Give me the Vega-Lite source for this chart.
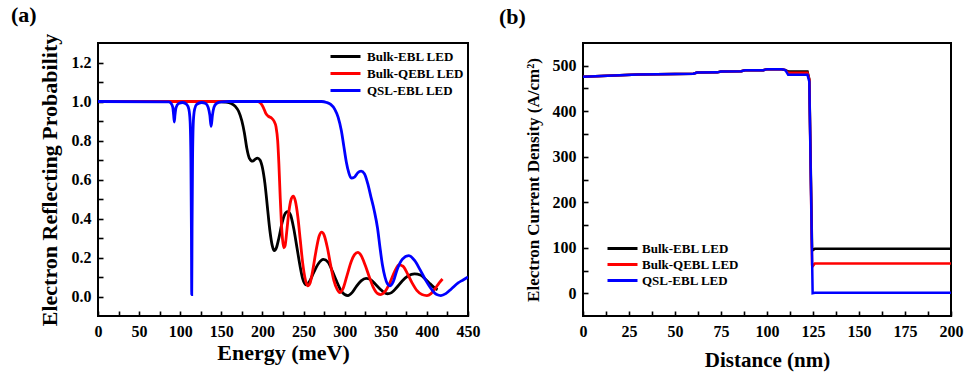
{
  "$schema": "https://vega.github.io/schema/vega-lite/v6.json",
  "background": "white",
  "padding": {"left": 10, "top": 3, "right": 5, "bottom": 3},
  "config": {
    "font": "Liberation Serif",
    "view": {"stroke": "black", "strokeWidth": 2},
    "axis": {
      "domain": false, "offset": -5,
      "tickColor": "black", "tickWidth": 1.6, "tickSize": 5,
      "labelFont": "Liberation Serif", "labelFontWeight": "bold", "labelFontSize": 16, "labelColor": "black",
      "labelPadding": 7, "labelOverlap": false, "labelFlush": false,
      "titleFont": "Liberation Serif", "titleFontWeight": "bold", "titleColor": "black",
      "grid": false
    },
    "legend": {
      "symbolType": "M-3,0H3", "symbolSize": 100, "symbolStrokeWidth": 3,
      "labelFont": "Liberation Serif", "labelFontWeight": "bold", "labelFontSize": 13, "labelColor": "black",
      "padding": 0
    },
    "title": {"font": "Liberation Serif", "fontWeight": "bold", "fontSize": 22, "color": "black"}
  },
  "datasets": {
    "refl": [
      {"series": "Bulk-EBL LED", "E": 0, "R": 1}, {"series": "Bulk-EBL LED", "E": 145, "R": 1}, {"series": "Bulk-EBL LED", "E": 155, "R": 0.997}, {"series": "Bulk-EBL LED", "E": 162, "R": 0.99}, {"series": "Bulk-EBL LED", "E": 167, "R": 0.975}, {"series": "Bulk-EBL LED", "E": 171, "R": 0.95}, {"series": "Bulk-EBL LED", "E": 175, "R": 0.9}, {"series": "Bulk-EBL LED", "E": 178, "R": 0.84}, {"series": "Bulk-EBL LED", "E": 181, "R": 0.76}, {"series": "Bulk-EBL LED", "E": 184, "R": 0.71}, {"series": "Bulk-EBL LED", "E": 188, "R": 0.694}, {"series": "Bulk-EBL LED", "E": 191, "R": 0.703}, {"series": "Bulk-EBL LED", "E": 194, "R": 0.71}, {"series": "Bulk-EBL LED", "E": 197, "R": 0.7}, {"series": "Bulk-EBL LED", "E": 200, "R": 0.66}, {"series": "Bulk-EBL LED", "E": 203, "R": 0.58}, {"series": "Bulk-EBL LED", "E": 206, "R": 0.46}, {"series": "Bulk-EBL LED", "E": 209, "R": 0.34}, {"series": "Bulk-EBL LED", "E": 212, "R": 0.26}, {"series": "Bulk-EBL LED", "E": 214.5, "R": 0.235}, {"series": "Bulk-EBL LED", "E": 217, "R": 0.25}, {"series": "Bulk-EBL LED", "E": 220, "R": 0.3}, {"series": "Bulk-EBL LED", "E": 224, "R": 0.38}, {"series": "Bulk-EBL LED", "E": 227, "R": 0.42}, {"series": "Bulk-EBL LED", "E": 230.5, "R": 0.435}, {"series": "Bulk-EBL LED", "E": 234, "R": 0.42}, {"series": "Bulk-EBL LED", "E": 238, "R": 0.35}, {"series": "Bulk-EBL LED", "E": 242, "R": 0.25}, {"series": "Bulk-EBL LED", "E": 246, "R": 0.15}, {"series": "Bulk-EBL LED", "E": 249, "R": 0.09}, {"series": "Bulk-EBL LED", "E": 253, "R": 0.06}, {"series": "Bulk-EBL LED", "E": 257, "R": 0.075}, {"series": "Bulk-EBL LED", "E": 262, "R": 0.12}, {"series": "Bulk-EBL LED", "E": 268, "R": 0.168}, {"series": "Bulk-EBL LED", "E": 274, "R": 0.19}, {"series": "Bulk-EBL LED", "E": 280, "R": 0.175}, {"series": "Bulk-EBL LED", "E": 285, "R": 0.13}, {"series": "Bulk-EBL LED", "E": 290, "R": 0.08}, {"series": "Bulk-EBL LED", "E": 295, "R": 0.035}, {"series": "Bulk-EBL LED", "E": 300, "R": 0.01}, {"series": "Bulk-EBL LED", "E": 304, "R": 0.005}, {"series": "Bulk-EBL LED", "E": 309, "R": 0.02}, {"series": "Bulk-EBL LED", "E": 314, "R": 0.05}, {"series": "Bulk-EBL LED", "E": 320, "R": 0.08}, {"series": "Bulk-EBL LED", "E": 326, "R": 0.093}, {"series": "Bulk-EBL LED", "E": 332, "R": 0.085}, {"series": "Bulk-EBL LED", "E": 338, "R": 0.06}, {"series": "Bulk-EBL LED", "E": 344, "R": 0.035}, {"series": "Bulk-EBL LED", "E": 348, "R": 0.02}, {"series": "Bulk-EBL LED", "E": 352, "R": 0.014}, {"series": "Bulk-EBL LED", "E": 357, "R": 0.02}, {"series": "Bulk-EBL LED", "E": 363, "R": 0.045}, {"series": "Bulk-EBL LED", "E": 370, "R": 0.08}, {"series": "Bulk-EBL LED", "E": 377, "R": 0.105}, {"series": "Bulk-EBL LED", "E": 385, "R": 0.116}, {"series": "Bulk-EBL LED", "E": 392, "R": 0.11}, {"series": "Bulk-EBL LED", "E": 398, "R": 0.09}, {"series": "Bulk-EBL LED", "E": 404, "R": 0.065}, {"series": "Bulk-EBL LED", "E": 409, "R": 0.045}, {"series": "Bulk-EBL LED", "E": 413, "R": 0.035},
      {"series": "Bulk-QEBL LED", "E": 0, "R": 1}, {"series": "Bulk-QEBL LED", "E": 194, "R": 1}, {"series": "Bulk-QEBL LED", "E": 198, "R": 0.99}, {"series": "Bulk-QEBL LED", "E": 201, "R": 0.97}, {"series": "Bulk-QEBL LED", "E": 204, "R": 0.94}, {"series": "Bulk-QEBL LED", "E": 207, "R": 0.925}, {"series": "Bulk-QEBL LED", "E": 211, "R": 0.915}, {"series": "Bulk-QEBL LED", "E": 214, "R": 0.9}, {"series": "Bulk-QEBL LED", "E": 216.5, "R": 0.87}, {"series": "Bulk-QEBL LED", "E": 218.5, "R": 0.8}, {"series": "Bulk-QEBL LED", "E": 220, "R": 0.68}, {"series": "Bulk-QEBL LED", "E": 221.5, "R": 0.52}, {"series": "Bulk-QEBL LED", "E": 223, "R": 0.38}, {"series": "Bulk-QEBL LED", "E": 224.5, "R": 0.29}, {"series": "Bulk-QEBL LED", "E": 226, "R": 0.25}, {"series": "Bulk-QEBL LED", "E": 227.5, "R": 0.26}, {"series": "Bulk-QEBL LED", "E": 229.5, "R": 0.33}, {"series": "Bulk-QEBL LED", "E": 232, "R": 0.43}, {"series": "Bulk-QEBL LED", "E": 235, "R": 0.5}, {"series": "Bulk-QEBL LED", "E": 237.5, "R": 0.515}, {"series": "Bulk-QEBL LED", "E": 240, "R": 0.49}, {"series": "Bulk-QEBL LED", "E": 243, "R": 0.41}, {"series": "Bulk-QEBL LED", "E": 246, "R": 0.29}, {"series": "Bulk-QEBL LED", "E": 249, "R": 0.17}, {"series": "Bulk-QEBL LED", "E": 252, "R": 0.09}, {"series": "Bulk-QEBL LED", "E": 255, "R": 0.055}, {"series": "Bulk-QEBL LED", "E": 258, "R": 0.07}, {"series": "Bulk-QEBL LED", "E": 261, "R": 0.13}, {"series": "Bulk-QEBL LED", "E": 265, "R": 0.23}, {"series": "Bulk-QEBL LED", "E": 269, "R": 0.31}, {"series": "Bulk-QEBL LED", "E": 272, "R": 0.33}, {"series": "Bulk-QEBL LED", "E": 275, "R": 0.315}, {"series": "Bulk-QEBL LED", "E": 279, "R": 0.25}, {"series": "Bulk-QEBL LED", "E": 283, "R": 0.16}, {"series": "Bulk-QEBL LED", "E": 287, "R": 0.08}, {"series": "Bulk-QEBL LED", "E": 291, "R": 0.035}, {"series": "Bulk-QEBL LED", "E": 294, "R": 0.02}, {"series": "Bulk-QEBL LED", "E": 298, "R": 0.04}, {"series": "Bulk-QEBL LED", "E": 303, "R": 0.11}, {"series": "Bulk-QEBL LED", "E": 308, "R": 0.18}, {"series": "Bulk-QEBL LED", "E": 312, "R": 0.215}, {"series": "Bulk-QEBL LED", "E": 316, "R": 0.226}, {"series": "Bulk-QEBL LED", "E": 320, "R": 0.21}, {"series": "Bulk-QEBL LED", "E": 325, "R": 0.16}, {"series": "Bulk-QEBL LED", "E": 330, "R": 0.1}, {"series": "Bulk-QEBL LED", "E": 335, "R": 0.045}, {"series": "Bulk-QEBL LED", "E": 340, "R": 0.015}, {"series": "Bulk-QEBL LED", "E": 344, "R": 0.01}, {"series": "Bulk-QEBL LED", "E": 349, "R": 0.025}, {"series": "Bulk-QEBL LED", "E": 355, "R": 0.07}, {"series": "Bulk-QEBL LED", "E": 361, "R": 0.13}, {"series": "Bulk-QEBL LED", "E": 366, "R": 0.162}, {"series": "Bulk-QEBL LED", "E": 371, "R": 0.155}, {"series": "Bulk-QEBL LED", "E": 376, "R": 0.12}, {"series": "Bulk-QEBL LED", "E": 382, "R": 0.07}, {"series": "Bulk-QEBL LED", "E": 388, "R": 0.03}, {"series": "Bulk-QEBL LED", "E": 394, "R": 0.01}, {"series": "Bulk-QEBL LED", "E": 400, "R": 0.005}, {"series": "Bulk-QEBL LED", "E": 405, "R": 0.015}, {"series": "Bulk-QEBL LED", "E": 410, "R": 0.04}, {"series": "Bulk-QEBL LED", "E": 415, "R": 0.07}, {"series": "Bulk-QEBL LED", "E": 419, "R": 0.09},
      {"series": "QSL-EBL LED", "E": 0, "R": 1}, {"series": "QSL-EBL LED", "E": 86, "R": 0.998}, {"series": "QSL-EBL LED", "E": 89, "R": 0.99}, {"series": "QSL-EBL LED", "E": 91, "R": 0.97}, {"series": "QSL-EBL LED", "E": 92, "R": 0.93}, {"series": "QSL-EBL LED", "E": 92.8, "R": 0.895}, {"series": "QSL-EBL LED", "E": 93.6, "R": 0.93}, {"series": "QSL-EBL LED", "E": 95, "R": 0.97}, {"series": "QSL-EBL LED", "E": 98, "R": 0.99}, {"series": "QSL-EBL LED", "E": 103, "R": 0.995}, {"series": "QSL-EBL LED", "E": 108, "R": 0.985}, {"series": "QSL-EBL LED", "E": 110.5, "R": 0.96}, {"series": "QSL-EBL LED", "E": 112, "R": 0.9}, {"series": "QSL-EBL LED", "E": 113, "R": 0.7}, {"series": "QSL-EBL LED", "E": 113.6, "R": 0.35}, {"series": "QSL-EBL LED", "E": 114, "R": 0.01}, {"series": "QSL-EBL LED", "E": 114.4, "R": 0.35}, {"series": "QSL-EBL LED", "E": 115, "R": 0.7}, {"series": "QSL-EBL LED", "E": 116, "R": 0.9}, {"series": "QSL-EBL LED", "E": 117.5, "R": 0.96}, {"series": "QSL-EBL LED", "E": 120, "R": 0.985}, {"series": "QSL-EBL LED", "E": 126, "R": 0.995}, {"series": "QSL-EBL LED", "E": 131, "R": 0.99}, {"series": "QSL-EBL LED", "E": 134, "R": 0.97}, {"series": "QSL-EBL LED", "E": 136, "R": 0.93}, {"series": "QSL-EBL LED", "E": 137.6, "R": 0.872}, {"series": "QSL-EBL LED", "E": 139.2, "R": 0.93}, {"series": "QSL-EBL LED", "E": 141, "R": 0.97}, {"series": "QSL-EBL LED", "E": 144, "R": 0.99}, {"series": "QSL-EBL LED", "E": 150, "R": 0.998}, {"series": "QSL-EBL LED", "E": 160, "R": 1}, {"series": "QSL-EBL LED", "E": 272, "R": 1}, {"series": "QSL-EBL LED", "E": 278, "R": 0.995}, {"series": "QSL-EBL LED", "E": 283, "R": 0.985}, {"series": "QSL-EBL LED", "E": 288, "R": 0.96}, {"series": "QSL-EBL LED", "E": 292, "R": 0.92}, {"series": "QSL-EBL LED", "E": 296, "R": 0.85}, {"series": "QSL-EBL LED", "E": 299, "R": 0.77}, {"series": "QSL-EBL LED", "E": 302, "R": 0.69}, {"series": "QSL-EBL LED", "E": 305, "R": 0.635}, {"series": "QSL-EBL LED", "E": 308, "R": 0.607}, {"series": "QSL-EBL LED", "E": 312, "R": 0.612}, {"series": "QSL-EBL LED", "E": 316, "R": 0.635}, {"series": "QSL-EBL LED", "E": 320, "R": 0.643}, {"series": "QSL-EBL LED", "E": 324, "R": 0.63}, {"series": "QSL-EBL LED", "E": 328, "R": 0.58}, {"series": "QSL-EBL LED", "E": 332, "R": 0.51}, {"series": "QSL-EBL LED", "E": 336, "R": 0.44}, {"series": "QSL-EBL LED", "E": 340, "R": 0.35}, {"series": "QSL-EBL LED", "E": 343, "R": 0.25}, {"series": "QSL-EBL LED", "E": 346, "R": 0.16}, {"series": "QSL-EBL LED", "E": 349, "R": 0.1}, {"series": "QSL-EBL LED", "E": 352, "R": 0.065}, {"series": "QSL-EBL LED", "E": 355, "R": 0.055}, {"series": "QSL-EBL LED", "E": 359, "R": 0.075}, {"series": "QSL-EBL LED", "E": 364, "R": 0.14}, {"series": "QSL-EBL LED", "E": 370, "R": 0.19}, {"series": "QSL-EBL LED", "E": 378, "R": 0.21}, {"series": "QSL-EBL LED", "E": 385, "R": 0.185}, {"series": "QSL-EBL LED", "E": 392, "R": 0.135}, {"series": "QSL-EBL LED", "E": 399, "R": 0.08}, {"series": "QSL-EBL LED", "E": 406, "R": 0.035}, {"series": "QSL-EBL LED", "E": 412, "R": 0.01}, {"series": "QSL-EBL LED", "E": 417, "R": 0.005}, {"series": "QSL-EBL LED", "E": 423, "R": 0.015}, {"series": "QSL-EBL LED", "E": 430, "R": 0.04}, {"series": "QSL-EBL LED", "E": 438, "R": 0.07}, {"series": "QSL-EBL LED", "E": 444, "R": 0.085}, {"series": "QSL-EBL LED", "E": 450, "R": 0.1}
    ],
    "cur": [
      {"series": "Bulk-EBL LED", "D": 0, "J": 476}, {"series": "Bulk-EBL LED", "D": 10, "J": 477.5}, {"series": "Bulk-EBL LED", "D": 20, "J": 479}, {"series": "Bulk-EBL LED", "D": 30, "J": 480.5}, {"series": "Bulk-EBL LED", "D": 40, "J": 481.5}, {"series": "Bulk-EBL LED", "D": 50, "J": 482}, {"series": "Bulk-EBL LED", "D": 60, "J": 482.5}, {"series": "Bulk-EBL LED", "D": 62, "J": 485}, {"series": "Bulk-EBL LED", "D": 73, "J": 485.5}, {"series": "Bulk-EBL LED", "D": 75, "J": 487.5}, {"series": "Bulk-EBL LED", "D": 86, "J": 488}, {"series": "Bulk-EBL LED", "D": 88, "J": 490}, {"series": "Bulk-EBL LED", "D": 98, "J": 490}, {"series": "Bulk-EBL LED", "D": 100, "J": 492.5}, {"series": "Bulk-EBL LED", "D": 108, "J": 492.5}, {"series": "Bulk-EBL LED", "D": 110, "J": 490.5}, {"series": "Bulk-EBL LED", "D": 111.5, "J": 487.5}, {"series": "Bulk-EBL LED", "D": 122, "J": 487.5}, {"series": "Bulk-EBL LED", "D": 123, "J": 470}, {"series": "Bulk-EBL LED", "D": 124.5, "J": 100}, {"series": "Bulk-EBL LED", "D": 125, "J": 95}, {"series": "Bulk-EBL LED", "D": 126, "J": 98}, {"series": "Bulk-EBL LED", "D": 200, "J": 98},
      {"series": "Bulk-QEBL LED", "D": 0, "J": 476}, {"series": "Bulk-QEBL LED", "D": 10, "J": 477.5}, {"series": "Bulk-QEBL LED", "D": 20, "J": 479}, {"series": "Bulk-QEBL LED", "D": 30, "J": 480.5}, {"series": "Bulk-QEBL LED", "D": 40, "J": 481.5}, {"series": "Bulk-QEBL LED", "D": 50, "J": 482}, {"series": "Bulk-QEBL LED", "D": 60, "J": 482.5}, {"series": "Bulk-QEBL LED", "D": 62, "J": 485}, {"series": "Bulk-QEBL LED", "D": 73, "J": 485.5}, {"series": "Bulk-QEBL LED", "D": 75, "J": 487.5}, {"series": "Bulk-QEBL LED", "D": 86, "J": 488}, {"series": "Bulk-QEBL LED", "D": 88, "J": 490}, {"series": "Bulk-QEBL LED", "D": 98, "J": 490}, {"series": "Bulk-QEBL LED", "D": 100, "J": 492.5}, {"series": "Bulk-QEBL LED", "D": 108, "J": 492.5}, {"series": "Bulk-QEBL LED", "D": 110, "J": 490.5}, {"series": "Bulk-QEBL LED", "D": 111.5, "J": 484.5}, {"series": "Bulk-QEBL LED", "D": 122, "J": 484.5}, {"series": "Bulk-QEBL LED", "D": 123, "J": 470}, {"series": "Bulk-QEBL LED", "D": 124.5, "J": 62}, {"series": "Bulk-QEBL LED", "D": 125, "J": 60}, {"series": "Bulk-QEBL LED", "D": 126, "J": 65.5}, {"series": "Bulk-QEBL LED", "D": 200, "J": 65.5},
      {"series": "QSL-EBL LED", "D": 0, "J": 476}, {"series": "QSL-EBL LED", "D": 10, "J": 477.5}, {"series": "QSL-EBL LED", "D": 20, "J": 479}, {"series": "QSL-EBL LED", "D": 30, "J": 480.5}, {"series": "QSL-EBL LED", "D": 40, "J": 481.5}, {"series": "QSL-EBL LED", "D": 50, "J": 482}, {"series": "QSL-EBL LED", "D": 60, "J": 482.5}, {"series": "QSL-EBL LED", "D": 62, "J": 485}, {"series": "QSL-EBL LED", "D": 73, "J": 485.5}, {"series": "QSL-EBL LED", "D": 75, "J": 487.5}, {"series": "QSL-EBL LED", "D": 86, "J": 488}, {"series": "QSL-EBL LED", "D": 88, "J": 490}, {"series": "QSL-EBL LED", "D": 98, "J": 490}, {"series": "QSL-EBL LED", "D": 100, "J": 492.5}, {"series": "QSL-EBL LED", "D": 108, "J": 492.5}, {"series": "QSL-EBL LED", "D": 110, "J": 490.5}, {"series": "QSL-EBL LED", "D": 111.5, "J": 480}, {"series": "QSL-EBL LED", "D": 122, "J": 480}, {"series": "QSL-EBL LED", "D": 123, "J": 465}, {"series": "QSL-EBL LED", "D": 124.8, "J": 0}, {"series": "QSL-EBL LED", "D": 126, "J": 1}, {"series": "QSL-EBL LED", "D": 200, "J": 1}
    ]
  },
  "bounds": "flush",
  "spacing": 115,
  "resolve": {"scale": {"color": "independent"}, "legend": {"color": "independent"}},
  "hconcat": [
    {
      "width": 370, "height": 273,
      "title": {"text": "(a)", "anchor": "start", "frame": "group", "dx": -87, "offset": 6},
      "data": {"name": "refl"},
      "mark": {"type": "line", "strokeWidth": 2.8, "interpolate": "monotone", "clip": true},
      "encoding": {
        "x": {"field": "E", "type": "quantitative", "scale": {"domain": [0, 450], "nice": false, "zero": false},
          "axis": {"title": "Energy (meV)", "titleFontSize": 22, "titlePadding": 3,
            "values": [0, 25, 50, 75, 100, 125, 150, 175, 200, 225, 250, 275, 300, 325, 350, 375, 400, 425, 450],
            "labelExpr": "datum.value % 50 === 0 ? datum.label : ''"}},
        "y": {"field": "R", "type": "quantitative", "scale": {"domain": [-0.1, 1.3], "nice": false, "zero": false},
          "axis": {"title": "Electron Reflecting Probability", "titleFontSize": 22, "titlePadding": 10,
            "values": [0, 0.1, 0.2, 0.3, 0.4, 0.5, 0.6, 0.7, 0.8, 0.9, 1.0, 1.1, 1.2],
            "labelExpr": "round(datum.value * 10) % 2 === 0 ? format(datum.value, '.1f') : ''"}},
        "color": {"field": "series", "type": "nominal",
          "scale": {"domain": ["Bulk-EBL LED", "Bulk-QEBL LED", "QSL-EBL LED"], "range": ["#000000", "#ff0000", "#0000ff"]},
          "legend": {"title": null, "orient": "none", "legendX": 241, "legendY": 7, "labelOffset": 15, "rowPadding": 3}}
      }
    },
    {
      "width": 368, "height": 273,
      "title": {"text": "(b)", "anchor": "start", "frame": "group", "dx": -84, "offset": 14},
      "data": {"name": "cur"},
      "mark": {"type": "line", "strokeWidth": 2.5, "clip": true},
      "encoding": {
        "x": {"field": "D", "type": "quantitative", "scale": {"domain": [0, 200], "nice": false, "zero": false},
          "axis": {"title": "Distance (nm)", "titleFontSize": 21, "titlePadding": 10,
            "values": [0, 12.5, 25, 37.5, 50, 62.5, 75, 87.5, 100, 112.5, 125, 137.5, 150, 162.5, 175, 187.5, 200],
            "labelExpr": "datum.value % 25 === 0 ? datum.label : ''"}},
        "y": {"field": "J", "type": "quantitative", "scale": {"domain": [-50, 550], "nice": false, "zero": false},
          "axis": {"title": "Electron Current Density (A/cm²)", "titleFontSize": 17, "titlePadding": 10,
            "values": [0, 50, 100, 150, 200, 250, 300, 350, 400, 450, 500],
            "labelExpr": "datum.value % 100 === 0 ? datum.label : ''"}},
        "color": {"field": "series", "type": "nominal",
          "scale": {"domain": ["Bulk-EBL LED", "Bulk-QEBL LED", "QSL-EBL LED"], "range": ["#000000", "#ff0000", "#0000ff"]},
          "legend": {"title": null, "orient": "none", "legendX": 33, "legendY": 199, "labelOffset": 13, "rowPadding": 2}}
      }
    }
  ]
}
